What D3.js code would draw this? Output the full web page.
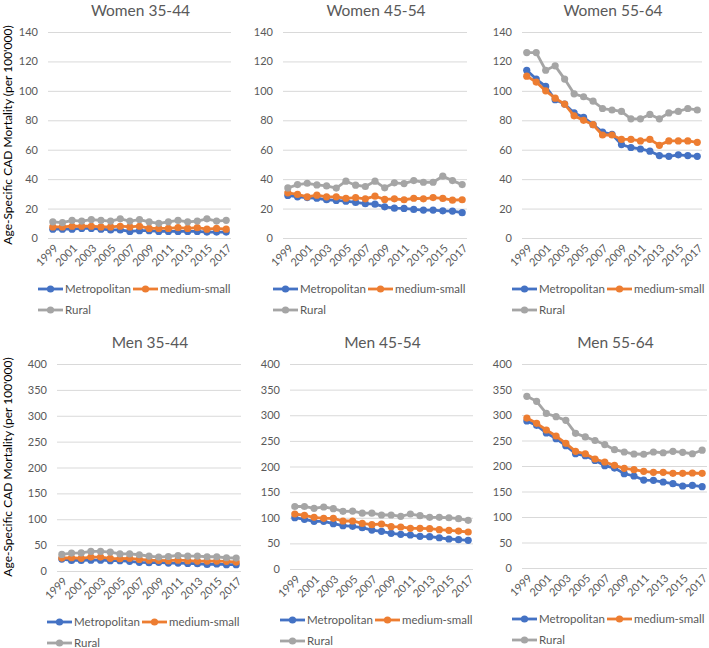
<!DOCTYPE html>
<html>
<head>
<meta charset="utf-8">
<script src="https://cdn.jsdelivr.net/npm/d3@7"></script>
<style>
  html, body { margin: 0; padding: 0; background: #fff; }
  svg { display: block; font-family: "Lato", "Open Sans", sans-serif; }
</style>
</head>
<body>
<svg id="chart" width="709" height="648"></svg>
<script>
// ---------- DATA ----------
const years = [1999,2000,2001,2002,2003,2004,2005,2006,2007,2008,2009,2010,2011,2012,2013,2014,2015,2016,2017];
const seriesNames = ["Metropolitan", "medium-small", "Rural"];
const panelTitles = ["Women 35-44", "Women 45-54", "Women 55-64", "Men 35-44", "Men 45-54", "Men 55-64"];
const womenTicks = [0, 20, 40, 60, 80, 100, 120, 140];
const menTicks = [0, 50, 100, 150, 200, 250, 300, 350, 400];
const yAxisTitle = "Age-Specific CAD Mortality (per 100'000)";

// Women 35-44
const w3544Metro  = [6, 6, 6, 6.5, 6.5, 6, 5.5, 5.5, 4.5, 5, 5, 4.5, 4.5, 4.5, 4.5, 4.5, 4, 4, 4];
const w3544Medium = [7.5, 7.5, 8, 8, 8, 7.5, 7.5, 8, 7.5, 8, 6.5, 6.5, 6.5, 7, 6.5, 7, 6, 6.5, 6];
const w3544Rural  = [11, 10.5, 12, 11.5, 12.5, 12, 11.5, 13, 11.5, 12.5, 11, 10, 11, 12, 11, 11.5, 13, 11.5, 12];
// Women 45-54
const w4554Metro  = [28.9, 28, 27.5, 27, 26, 25.5, 25, 24.2, 23.3, 23, 21.2, 20.3, 20.1, 19.4, 19, 19, 18.5, 18.3, 17.2];
const w4554Medium = [30.7, 29.6, 28, 29.1, 28, 28, 27, 27.5, 26.6, 28.4, 26.2, 26.6, 26, 27, 26.6, 27.5, 26.9, 25.7, 26];
const w4554Rural  = [34, 36.3, 37.2, 36.1, 35.4, 33.9, 38.6, 35.9, 35, 38.6, 34.1, 37.5, 37, 39, 37.9, 37.9, 42, 39, 36.3];
// Women 55-64
const w5564Metro  = [114, 108, 103, 94, 91, 85, 82, 77, 72, 70.5, 63.5, 61.5, 60.5, 59, 56, 55.5, 56.5, 56, 55.5];
const w5564Medium = [110, 106, 100, 95, 91, 83, 80, 77, 70, 70, 67, 67, 66, 67, 63, 66, 66, 66, 65];
const w5564Rural  = [126, 126, 114, 117, 108, 98, 96, 93, 88, 87, 86, 81, 81, 84, 81, 85, 86, 88, 87];
// Men 35-44
const m3544Metro  = [23, 20.5, 20.5, 21, 21, 20, 20, 18.6, 16.7, 16, 16.7, 15.4, 15.4, 14.7, 14, 12.8, 13.5, 12.2, 12.2];
const m3544Medium = [25, 25.6, 24.4, 27, 27, 24.4, 23.7, 24.4, 22.4, 21, 20.5, 20, 21, 20, 19.2, 19.2, 19.2, 18.6, 17.3];
const m3544Rural  = [32, 34.6, 35, 37.8, 37.8, 36.5, 33, 33, 31.4, 28.8, 27, 28, 30, 28.8, 28.8, 27.5, 27.5, 25.6, 25];
// Men 45-54
const m4554Metro  = [100.2, 97, 93, 93, 88.5, 84.6, 83.3, 80.7, 76, 73.5, 69.6, 67.6, 66.3, 63.7, 63, 61, 58.5, 57.2, 56];
const m4554Medium = [107.3, 104.7, 100.8, 98.9, 98.9, 93.7, 93.7, 89, 86.5, 87.8, 82.6, 82, 79.3, 79.3, 78.7, 76.7, 75.4, 74, 72.2];
const m4554Rural  = [122, 122, 118.4, 121, 117.7, 112.5, 113, 109, 109, 105.4, 105.4, 102.8, 107.3, 104, 100.8, 100.8, 100, 98.2, 95];
// Men 55-64
const m5564Metro  = [288.2, 279.7, 264.7, 253.6, 239.9, 224, 220.3, 211, 200.7, 196, 185, 180.4, 172.5, 172, 168.6, 165.4, 160.8, 162, 159.5];
const m5564Medium = [294, 283.7, 270.6, 258.8, 244.4, 228.8, 224, 213.7, 207.8, 201.3, 195.4, 192.8, 189.5, 187.6, 187.6, 185.6, 185.6, 186.3, 185.6];
const m5564Rural  = [336.6, 326.8, 303, 296.7, 289.5, 264, 257, 250, 242, 232, 227.5, 223.5, 223, 227.5, 226, 228.8, 226.8, 224, 231];

// ---------- LAYOUT / STYLE ----------
const colors = ["#4472C4", "#ED7D31", "#A5A5A5"];
const textColor = "#595959";
const gridColor = "#D9D9D9";

const panels = [
  { title: panelTitles[0], ticks: womenTicks, series: [w3544Metro, w3544Medium, w3544Rural], x0: 48,  x1: 231, y0: 32,  y1: 238, titleY: 16 },
  { title: panelTitles[1], ticks: womenTicks, series: [w4554Metro, w4554Medium, w4554Rural], x0: 283, x1: 467, y0: 32,  y1: 238, titleY: 16 },
  { title: panelTitles[2], ticks: womenTicks, series: [w5564Metro, w5564Medium, w5564Rural], x0: 522, x1: 702, y0: 32,  y1: 238, titleY: 16 },
  { title: panelTitles[3], ticks: menTicks,   series: [m3544Metro, m3544Medium, m3544Rural], x0: 57,  x1: 241, y0: 364, y1: 571, titleY: 348 },
  { title: panelTitles[4], ticks: menTicks,   series: [m4554Metro, m4554Medium, m4554Rural], x0: 290, x1: 473, y0: 364, y1: 569, titleY: 348 },
  { title: panelTitles[5], ticks: menTicks,   series: [m5564Metro, m5564Medium, m5564Rural], x0: 522, x1: 707, y0: 364, y1: 568, titleY: 348 }
];

const svg = d3.select("#chart");

panels.forEach(p => {
  const g = svg.append("g");
  const x = d3.scaleBand().domain(years).range([p.x0, p.x1]);
  const y = d3.scaleLinear().domain([0, d3.max(p.ticks)]).range([p.y1, p.y0]);
  const cx = d => x(d) + x.bandwidth() / 2;

  // gridlines + y labels
  const yAxis = d3.axisLeft(y).tickValues(p.ticks).tickSize(-(p.x1 - p.x0)).tickPadding(10);
  const ya = g.append("g").attr("transform", `translate(${p.x0},0)`).call(yAxis);
  ya.select(".domain").remove();
  ya.selectAll(".tick line").attr("stroke", gridColor).attr("stroke-width", 1);
  ya.selectAll(".tick text").attr("fill", textColor).style("font-size", "11px").style("font-family", "Lato, sans-serif");

  // x axis labels (every other year)
  const xAxis = d3.axisBottom(x).tickValues(years.filter((d, i) => i % 2 === 0)).tickSize(0).tickPadding(0);
  const xa = g.append("g").attr("transform", `translate(0,${p.y1})`).call(xAxis);
  xa.select(".domain").remove();
  xa.selectAll(".tick text")
    .attr("fill", textColor)
    .style("font-size", "11px")
    .style("font-family", "Lato, sans-serif")
    .attr("text-anchor", "end")
    .attr("x", 0).attr("y", 0).attr("dy", "0")
    .attr("transform", "translate(6,11) rotate(-45)");

  // title
  g.append("text")
    .attr("x", (p.x0 + p.x1) / 2 + 1)
    .attr("y", p.titleY)
    .attr("text-anchor", "middle")
    .attr("fill", textColor)
    .style("font-size", "15.5px")
    .text(p.title);

  // series
  const line = d3.line().x((d, i) => cx(years[i])).y(d => y(d));
  p.series.forEach((vals, si) => {
    g.append("path")
      .datum(vals)
      .attr("d", line)
      .attr("fill", "none")
      .attr("stroke", colors[si])
      .attr("stroke-width", 2.8)
      .attr("stroke-linejoin", "round");
    g.selectAll(null)
      .data(vals)
      .enter().append("circle")
      .attr("cx", (d, i) => cx(years[i]))
      .attr("cy", d => y(d))
      .attr("r", 3.6)
      .attr("fill", colors[si]);
  });

  // legend
  const ly = p.y1 + 51;
  const items = [
    { name: seriesNames[0], x: p.x0 - 10, y: ly, c: colors[0] },
    { name: seriesNames[1], x: p.x0 + 85, y: ly, c: colors[1] },
    { name: seriesNames[2], x: p.x0 - 10, y: ly + 21, c: colors[2] }
  ];
  items.forEach(it => {
    const lg = g.append("g").attr("transform", `translate(${it.x},${it.y})`);
    lg.append("line").attr("x1", 0).attr("x2", 25).attr("y1", 0).attr("y2", 0)
      .attr("stroke", it.c).attr("stroke-width", 2.8);
    lg.append("circle").attr("cx", 12.5).attr("cy", 0).attr("r", 3.6).attr("fill", it.c);
    lg.append("text").attr("x", 27).attr("y", 0).attr("dy", "0.35em")
      .attr("fill", textColor).style("font-size", "11.5px").text(it.name);
  });
});

// y-axis titles
[{ cy: 135 }, { cy: 467 }].forEach(t => {
  svg.append("text")
    .attr("transform", `translate(12,${t.cy}) rotate(-90)`)
    .attr("text-anchor", "middle")
    .attr("fill", "#000")
    .style("font-size", "12px")
    .text(yAxisTitle);
});
</script>
</body>
</html>
